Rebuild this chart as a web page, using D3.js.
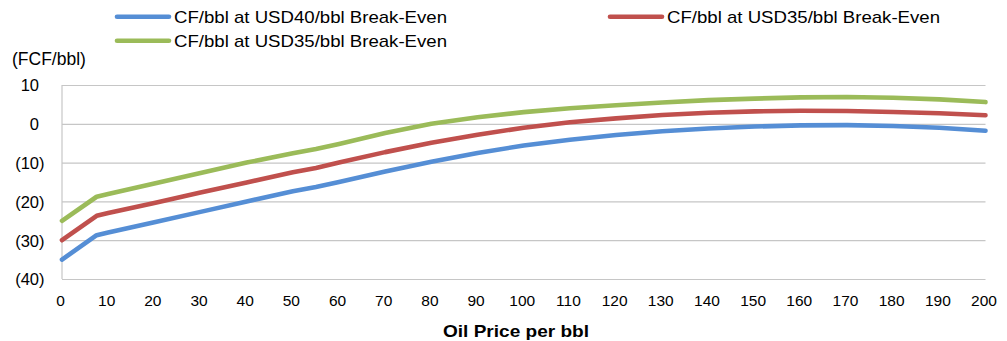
<!DOCTYPE html>
<html>
<head>
<meta charset="utf-8">
<script src="https://cdn.jsdelivr.net/npm/d3@7"></script>
<style>
  html, body { margin: 0; padding: 0; background: #fff; }
  svg { display: block; }
  text { font-family: "Liberation Sans", Arial, sans-serif; fill: #000; }
</style>
</head>
<body>
<div id="chart"></div>
<script>
// Oil price per barrel (USD)
const oilPrice = [0, 7.5, 10, 20, 30, 40, 50, 55, 60, 70, 80, 90, 100, 110, 120, 130, 140, 150, 160, 170, 180, 190, 200];

// Free cash flow per barrel for each break-even assumption
const cfBreakEven40 = [-35, -28.7, -28.0, -25.4, -22.7, -20.0, -17.4, -16.3, -15.0, -12.3, -9.8, -7.5, -5.6, -4.1, -2.9, -1.9, -1.2, -0.7, -0.4, -0.35, -0.55, -1.0, -1.8];
const cfBreakEven35a = [-30, -23.7, -23.0, -20.4, -17.7, -15.1, -12.5, -11.4, -10.0, -7.3, -4.9, -2.8, -1.0, 0.4, 1.4, 2.25, 2.85, 3.2, 3.35, 3.3, 3.05, 2.7, 2.2];
const cfBreakEven35b = [-25, -18.8, -18.1, -15.4, -12.7, -10.0, -7.6, -6.5, -5.2, -2.4, 0.0, 1.7, 3.0, 4.0, 4.8, 5.5, 6.1, 6.5, 6.8, 6.9, 6.7, 6.3, 5.6];

const seriesNames = [
  "CF/bbl at USD40/bbl Break-Even",
  "CF/bbl at USD35/bbl Break-Even",
  "CF/bbl at USD35/bbl Break-Even"
];
const seriesValues = [cfBreakEven40, cfBreakEven35a, cfBreakEven35b];
const seriesColors = ["#558ED5", "#C0504D", "#9BBB59"];

const xTicks = d3.range(0, 201, 10);
const yTicks = [10, 0, -10, -20, -30, -40];

const yAxisTitle = "(FCF/bbl)";
const xAxisTitle = "Oil Price per bbl";

const W = 1007, H = 341;
const plot = { left: 62, right: 985.5, top: 85, bottom: 279 };

const svg = d3.select("#chart").append("svg")
  .attr("width", W).attr("height", H);

const x = d3.scaleLinear().domain([0, 200]).range([plot.left, plot.right]);
const y = d3.scaleLinear().domain([-40, 10]).range([plot.bottom, plot.top]);

const fmt = v => v < 0 ? `(${-v})` : `${v}`;

// Horizontal gridlines with labels on the left
const yAxis = d3.axisLeft(y).tickValues(yTicks).tickFormat(fmt)
  .tickSize(-(plot.right - plot.left)).tickPadding(0);
const gy = svg.append("g").attr("transform", `translate(${plot.left},0)`).call(yAxis);
gy.select(".domain").remove();
gy.selectAll(".tick line").attr("stroke", "#c6c6c6").attr("stroke-width", 1.2);
gy.selectAll(".tick text")
  .attr("font-size", 16.5)
  .attr("x", d => d < 0 ? -17.5 : -23)
  .attr("dy", "0.36em");

// Vertical axis line
svg.append("line")
  .attr("x1", plot.left).attr("x2", plot.left)
  .attr("y1", plot.top).attr("y2", plot.bottom)
  .attr("stroke", "#c6c6c6").attr("stroke-width", 1.2);

// Bottom axis labels
const xAxis = d3.axisBottom(x).tickValues(xTicks).tickSize(0).tickPadding(0);
const gx = svg.append("g").attr("transform", `translate(-2,0)`).call(xAxis);
gx.select(".domain").remove();
gx.selectAll(".tick text").attr("font-size", 15.5).attr("y", 305.5).attr("dy", 0);

// Series lines
const line = d3.line()
  .x((d, i) => x(oilPrice[i]))
  .y(d => y(d));

svg.append("g").selectAll("path")
  .data(seriesValues)
  .join("path")
  .attr("d", d => line(d))
  .attr("fill", "none")
  .attr("stroke", (d, i) => seriesColors[i])
  .attr("stroke-width", 4.6)
  .attr("stroke-linecap", "round")
  .attr("stroke-linejoin", "round");

// Axis titles
svg.append("text").attr("x", 12).attr("y", 64.5).attr("font-size", 17.5).text(yAxisTitle);
svg.append("text").attr("x", 516).attr("y", 337)
  .attr("text-anchor", "middle").attr("font-size", 16.5).attr("font-weight", "bold")
  .attr("textLength", 146).attr("lengthAdjust", "spacingAndGlyphs")
  .text(xAxisTitle);

// Legend
const legendPos = [
  { lx: 117, ly: 16.7 },
  { lx: 610, ly: 16.7 },
  { lx: 117, ly: 40.7 }
];
const lg = svg.append("g").selectAll("g")
  .data(seriesNames)
  .join("g")
  .attr("transform", (d, i) => `translate(${legendPos[i].lx},${legendPos[i].ly})`);
lg.append("line")
  .attr("x1", 0).attr("x2", 52).attr("y1", 0).attr("y2", 0)
  .attr("stroke", (d, i) => seriesColors[i])
  .attr("stroke-width", 4.6).attr("stroke-linecap", "round");
lg.append("text")
  .attr("x", 57).attr("y", 6).attr("font-size", 17)
  .attr("textLength", 273).attr("lengthAdjust", "spacingAndGlyphs")
  .text(d => d);
</script>
</body>
</html>
